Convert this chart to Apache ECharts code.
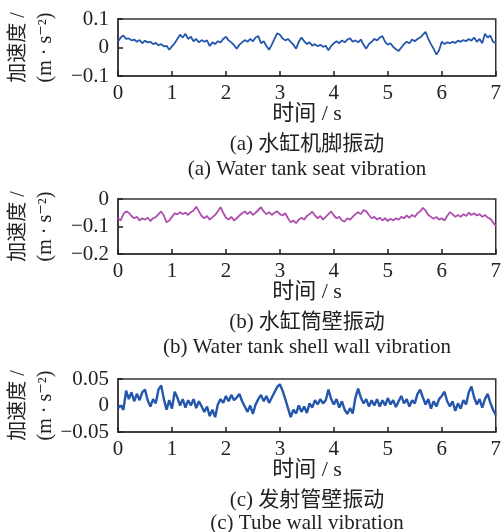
<!DOCTYPE html>
<html><head><meta charset="utf-8">
<script src="https://cdn.jsdelivr.net/npm/echarts@6/dist/echarts.min.js"></script>
<style>html,body{margin:0;padding:0;background:#fff}#c{width:504px;height:532px}</style>
</head><body><div id="c"></div>
<script>
// sampling step (s) of the read-off traces
const T_STEP = 0.05;
const xTicks = [0,1,2,3,4,5,6,7];
const yTicksA = [-0.1, 0, 0.1];
const yTicksB = [-0.2, -0.1, 0];
const yTicksC = [-0.05, 0, 0.05];

// (a) water tank seat vibration
const seatVib = [0.02,0.035,0.042,0.03,0.032,0.025,0.028,0.02,0.026,0.015,0.024,0.018,0.02,0.012,0.016,0.008,0.012,0.004,0.006,-0.008,
0.004,0.015,0.03,0.045,0.035,0.048,0.03,0.038,0.022,0.03,0.018,0.026,0.02,0.025,0.005,0.018,0.012,0.022,0.018,0.03,
0.038,0.025,0.018,0.008,-0.004,0.01,0.018,0.026,0.02,0.03,0.022,0.035,0.04,0.015,0.022,0.005,-0.008,0.01,0.03,0.05,
0.045,0.032,0.025,0.03,0.02,0.01,-0.004,0.02,0.035,0.022,0.012,0.018,0.006,0.012,0.004,0.01,0.002,0.006,-0.01,0.005,
0.015,0.022,0.015,0.025,0.018,0.028,0.032,0.02,0.025,0.018,0.028,0.01,-0.004,0.012,0.02,0.03,0.025,0.035,0.04,0.02,
0.01,0.015,0.002,-0.006,-0.012,0.0,0.012,0.02,0.015,0.028,0.022,0.03,0.035,0.045,0.055,0.03,0.012,-0.005,-0.025,-0.01,
0.02,0.012,0.018,0.015,0.02,0.016,0.024,0.02,0.026,0.022,0.03,0.024,0.035,0.02,0.03,0.015,0.048,0.035,0.042,0.02,0.015];

// (b) water tank shell wall vibration
const shellVib = [-0.07,-0.078,-0.055,-0.045,-0.05,-0.062,-0.07,-0.065,-0.078,-0.07,-0.075,-0.068,-0.08,-0.07,-0.066,-0.055,-0.045,-0.06,-0.085,-0.078,
-0.065,-0.052,-0.056,-0.048,-0.055,-0.05,-0.058,-0.048,-0.042,-0.028,-0.045,-0.062,-0.07,-0.062,-0.075,-0.066,-0.058,-0.045,-0.03,-0.05,
-0.068,-0.075,-0.065,-0.078,-0.07,-0.06,-0.052,-0.045,-0.055,-0.046,-0.058,-0.05,-0.04,-0.03,-0.045,-0.055,-0.048,-0.058,-0.05,-0.045,
-0.055,-0.06,-0.052,-0.07,-0.085,-0.078,-0.088,-0.075,-0.068,-0.075,-0.062,-0.055,-0.046,-0.06,-0.07,-0.062,-0.075,-0.065,-0.055,-0.045,
-0.06,-0.07,-0.065,-0.078,-0.082,-0.07,-0.075,-0.065,-0.055,-0.048,-0.055,-0.04,-0.045,-0.058,-0.07,-0.065,-0.075,-0.068,-0.078,-0.07,
-0.08,-0.072,-0.078,-0.07,-0.075,-0.065,-0.07,-0.06,-0.068,-0.058,-0.065,-0.052,-0.045,-0.032,-0.042,-0.058,-0.065,-0.072,-0.065,-0.075,
-0.07,-0.078,-0.062,-0.048,-0.055,-0.065,-0.058,-0.065,-0.055,-0.062,-0.05,-0.058,-0.052,-0.06,-0.055,-0.065,-0.058,-0.068,-0.072,-0.085,-0.098];

// (c) tube wall vibration
const tubeVib = [-0.005,0.0,-0.008,0.028,0.012,0.025,0.008,0.022,0.01,0.025,0.03,0.01,-0.002,0.012,0.004,0.03,0.038,0.012,-0.008,0.01,
-0.006,0.026,0.015,0.0,0.012,-0.004,0.01,0.0,0.012,-0.005,0.008,-0.002,-0.012,-0.002,-0.02,-0.008,-0.022,0.002,0.012,0.005,
0.018,0.008,0.02,0.01,0.015,0.022,0.008,-0.002,-0.012,0.0,-0.016,0.002,0.012,0.02,0.008,0.018,0.005,0.015,0.025,0.035,
0.04,0.028,0.012,-0.005,-0.022,-0.008,-0.015,0.0,-0.012,-0.002,-0.014,0.004,-0.004,0.01,0.002,0.012,0.004,0.01,0.03,0.012,
0.002,0.012,-0.004,0.008,-0.008,-0.016,-0.005,-0.015,0.015,0.032,0.015,0.004,0.012,-0.002,0.01,0.0,0.012,-0.002,0.01,0.0,
0.014,0.002,0.01,-0.003,0.008,0.018,0.004,0.012,-0.002,0.01,0.004,0.022,0.03,0.015,0.002,0.012,-0.006,0.008,-0.002,0.012,
0.018,0.026,0.008,-0.002,0.008,-0.01,0.004,-0.006,0.01,0.002,0.025,0.036,0.015,0.002,0.012,-0.004,0.012,0.022,0.005,-0.008,-0.018];

const xName = '时间 / s';
const yName1 = '加速度 /';
const yName2 = '(m · s⁻²)';
const captionsCN = ['(a) 水缸机脚振动', '(b) 水缸筒壁振动', '(c) 发射管壁振动'];
const captionsEN = ['(a) Water tank seat vibration', '(b) Water tank shell wall vibration', '(c) Tube wall vibration'];
const colors = ['#2457ab', '#ad4fae', '#2457ab'];
const lineWidths = [1.8, 1.8, 2.4];

const FONT = '"Liberation Serif", "DejaVu Serif", "Noto Sans CJK SC", serif';
const toPairs = arr => arr.map((v, i) => [+(i * T_STEP).toFixed(3), v]);
const fmt = v => { const r = Math.round(v * 1000) / 1000; return r === 0 ? '0' : String(r).replace('-', '−'); };

const grids = [
  {left:118, top:19, width:378, height:57},
  {left:118, top:199, width:378, height:55},
  {left:118, top:379, width:378, height:53}
];
const yTicks = [yTicksA, yTicksB, yTicksC];
const series = [seatVib, shellVib, tubeVib];

const option = {
  animation: false,
  backgroundColor: '#fff',
  grid: grids.map(g => Object.assign({show:true, borderColor:'#333', borderWidth:1.5, backgroundColor:'transparent'}, g)),
  xAxis: grids.map((g, i) => ({
    type:'value', gridIndex:i, min:xTicks[0], max:xTicks[xTicks.length-1], interval:1,
    axisLine:{show:true, onZero:false, lineStyle:{color:'#333', width:1.5}},
    axisTick:{show:true, inside:true, length:5, lineStyle:{color:'#222', width:1.5}},
    axisLabel:{color:'#222', fontSize:21, fontFamily:FONT, margin:7, showMinLabel:true, showMaxLabel:true},
    splitLine:{show:false}
  })),
  yAxis: grids.map((g, i) => ({
    type:'value', gridIndex:i, min:yTicks[i][0], max:yTicks[i][2], interval:yTicks[i][1]-yTicks[i][0],
    axisLine:{show:true, onZero:false, lineStyle:{color:'#333', width:1.5}},
    axisTick:{show:true, inside:true, length:5, lineStyle:{color:'#222', width:1.5}},
    axisLabel:{color:'#222', fontSize:21, fontFamily:FONT, margin:9, formatter:fmt},
    splitLine:{show:false}
  })),
  series: series.map((d, i) => ({
    type:'line', xAxisIndex:i, yAxisIndex:i, data:toPairs(d), showSymbol:false, symbol:'none',
    lineStyle:{color:colors[i], width:lineWidths[i]}, z:1
  })),
  graphic: []
};

const textStyle = (txt, size) => ({text:txt, font:size+'px '+FONT, fill:'#222', textAlign:'center', textVerticalAlign:'middle'});
const xNameY = [114, 292, 470];
const capCNY = [144, 322, 500];
const capENY = [169, 347, 523];
grids.forEach((g, i) => {
  const cx = g.left + g.width / 2;
  const cy = g.top + g.height / 2;
  option.graphic.push({type:'text', x:cx, y:xNameY[i], style:textStyle(xName, 22)});
  option.graphic.push({type:'text', x:cx, y:capCNY[i], style:textStyle(captionsCN[i], 21)});
  option.graphic.push({type:'text', x:cx, y:capENY[i], style:textStyle(captionsEN[i], 21)});
  option.graphic.push({type:'text', x:19, y:cy, rotation:Math.PI/2, style:textStyle(yName1, 20)});
  option.graphic.push({type:'text', x:46, y:cy, rotation:Math.PI/2, style:textStyle(yName2, 20)});
});

const chart = echarts.init(document.getElementById('c'), null, {renderer:'canvas'});
chart.setOption(option);
</script>
</body></html>
